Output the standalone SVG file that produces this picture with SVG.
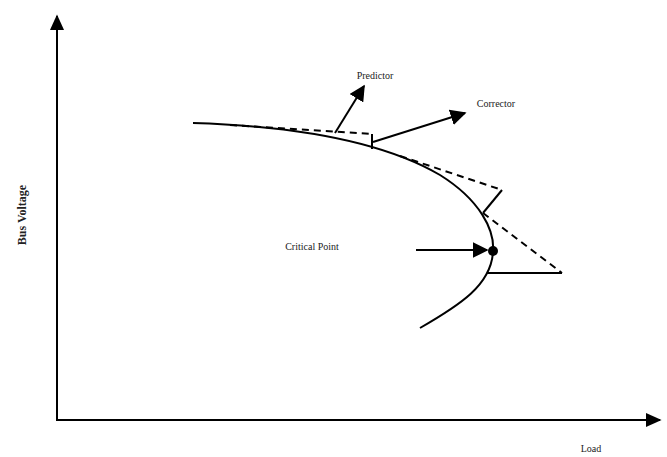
<svg xmlns="http://www.w3.org/2000/svg" width="667" height="457" viewBox="0 0 667 457">
<style>
.ln{fill:none;stroke:#000;stroke-width:2}
.dash{fill:none;stroke:#000;stroke-width:2;stroke-dasharray:7,5}
.lbl{font-family:"Liberation Serif",serif;font-size:10px;fill:#222}
.ylbl{font-size:12px;font-weight:bold}
</style>
<defs>
<marker id="ah" viewBox="0 0 10 10" refX="9" refY="5" markerWidth="8" markerHeight="8" markerUnits="strokeWidth" orient="auto">
<path d="M0,0 L10,5 L0,10 z" fill="#000"/>
</marker>
<marker id="ahAxis" viewBox="0 0 10 10" refX="9" refY="5" markerWidth="8" markerHeight="8" markerUnits="strokeWidth" orient="auto">
<path d="M0,0.5 L10,5 L0,9.5 z" fill="#000"/>
</marker>
</defs>
<rect width="667" height="457" fill="#fff"/>
<g id="axes">
<line class="ln" x1="57" y1="421" x2="57" y2="16" marker-end="url(#ahAxis)"/>
<line class="ln" x1="56" y1="420" x2="660" y2="420" marker-end="url(#ahAxis)"/>
<text class="lbl ylbl" transform="translate(26,215) rotate(-90)" text-anchor="middle">Bus Voltage</text>
<text class="lbl" x="591" y="452" text-anchor="middle">Load</text>
</g>
<g id="pv-curve">
<path class="ln" d="M193,123 C290,126 380,140 440,175 C480,200 495,230 493,252 C491,285 460,305 420,328"/>
</g>
<g id="critical-point">
<circle cx="493" cy="251" r="5" fill="#000"/>
<text class="lbl" x="312" y="250" text-anchor="middle">Critical Point</text>
</g>
<g id="predictor-label">
<text class="lbl" x="375" y="79" text-anchor="middle">Predictor</text>
</g>
<g id="corrector-label">
<text class="lbl" x="496" y="107" text-anchor="middle">Corrector</text>
</g>
<g id="connectors">
<path class="dash" d="M230,125 L372,134"/>
<path class="ln" d="M372,134 L372,149"/>
<path class="dash" d="M400,156 L502,190"/>
<path class="ln" d="M502,190 L483,213"/>
<path class="dash" d="M483,213 L562,273"/>
<path class="ln" d="M562,273 L487,273"/>
<line class="ln" x1="335" y1="133" x2="364" y2="86" marker-end="url(#ah)"/>
<line class="ln" x1="373" y1="142" x2="465" y2="113" marker-end="url(#ah)"/>
<line class="ln" x1="416" y1="250" x2="487" y2="250" marker-end="url(#ah)"/>
</g>
</svg>
